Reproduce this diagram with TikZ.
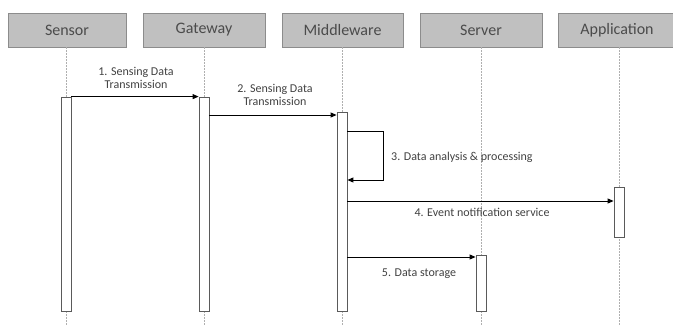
\documentclass[tikz,border=0pt]{standalone}
\usepackage{fontspec}
\setmainfont{Carlito}
\usetikzlibrary{arrows.meta,calc}
\definecolor{headfill}{RGB}{192,192,192}
\definecolor{headline}{RGB}{140,140,140}
\definecolor{headtext}{RGB}{75,75,75}
\definecolor{labtext}{RGB}{65,65,65}
\definecolor{lifecol}{RGB}{175,175,175}
\definecolor{barline}{RGB}{90,90,90}
\tikzset{
  head/.style={rectangle, fill=headfill, draw=headline, line width=0.8pt,
    minimum height=34pt, inner sep=0pt, text=headtext, font=\fontsize{16}{18}\selectfont},
  lifeline/.style={draw=lifecol, line width=0.6pt, dash pattern=on 2pt off 1pt},
  actbar/.style={rectangle, fill=white, draw=barline, line width=0.8pt, minimum width=10pt, inner sep=0pt},
  msg/.style={draw=black, line width=0.9pt, -{Triangle[length=6pt,width=5pt]}},
  lab/.style={text=labtext, font=\fontsize{12}{12.5}\selectfont, align=center, inner sep=0pt}
}
\begin{document}
\begin{tikzpicture}[x=1pt,y=-1pt]
\useasboundingbox (0,0) rectangle (673,325);
% headers
\node[head, minimum width=118pt] (sensor) at (67,30) {Sensor};
\node[head, minimum width=122pt] (gateway) at (204,30) {Gateway};
\node[head, minimum width=121pt] (middle) at (342.5,30) {Middleware};
\node[head, minimum width=122pt] (server) at (481,30) {Server};
\node[head, minimum width=118pt] (app) at (617,30) {Application};
% lifeline ends
\coordinate (sensorEnd) at (66,325);
\coordinate (gatewayEnd) at (204,325);
\coordinate (middleEnd) at (342,325);
\coordinate (serverEnd) at (481,325);
\coordinate (appEnd) at (619,325);
\draw[lifeline] (sensor.south -| sensorEnd) -- (sensorEnd);
\draw[lifeline] (gateway.south -| gatewayEnd) -- (gatewayEnd);
\draw[lifeline] (middle.south -| middleEnd) -- (middleEnd);
\draw[lifeline] (server.south -| serverEnd) -- (serverEnd);
\draw[lifeline] (app.south -| appEnd) -- (appEnd);
% activation bars
\node[actbar, minimum height=214pt] (sbar) at (66,204) {};
\node[actbar, minimum height=214pt] (gbar) at (204,204) {};
\node[actbar, minimum height=199pt] (mbar) at (342,211.5) {};
\node[actbar, minimum height=56pt] (srvbar) at (481,283) {};
\node[actbar, minimum height=50pt] (abar) at (619,212) {};
% messages
\draw[msg] (sbar.north east) -- (gbar.north west);
\node[lab] (l1) at (136,78) {1. Sensing Data\\Transmission};
\coordinate (m2) at (0,115);
\draw[msg] (gbar.east |- m2) -- (mbar.west |- m2);
\node[lab] (l2) at (275,95) {2. Sensing Data\\Transmission};
\coordinate (m3a) at (383,131);
\coordinate (m3b) at (383,180);
\draw[msg] (mbar.east |- m3a) -- (m3a) -- (m3b) -- (mbar.east |- m3b);
\node[lab, anchor=west] (l3) at (391,157) {3. Data analysis \& processing};
\coordinate (m4) at (0,201);
\draw[msg] (mbar.east |- m4) -- (abar.west |- m4);
\node[lab] (l4) at (482,212) {4. Event notification service};
\coordinate (m5) at (0,257);
\draw[msg] (mbar.east |- m5) -- (srvbar.west |- m5);
\node[lab] (l5) at (419,274) {5. Data storage};
\end{tikzpicture}
\end{document}
